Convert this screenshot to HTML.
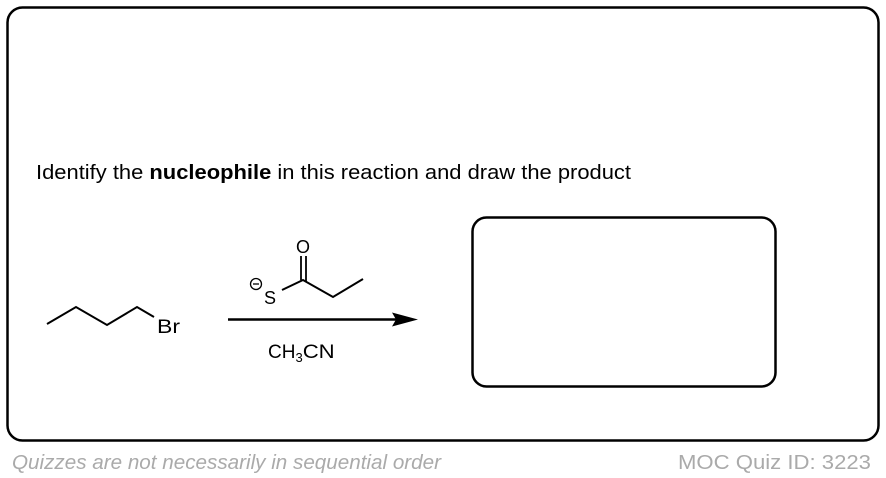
<!DOCTYPE html>
<html><head><meta charset="utf-8"><style>
html,body{margin:0;padding:0;background:#fff;}
body{width:886px;height:478px;overflow:hidden;position:relative;font-family:"Liberation Sans",Arial,sans-serif;}
</style></head><body>
<svg width="886" height="478" viewBox="0 0 886 478" xmlns="http://www.w3.org/2000/svg" style="position:absolute;left:0;top:0" font-family="Liberation Sans, Arial, sans-serif">
<rect x="7.5" y="7.5" width="871" height="433" rx="15" fill="none" stroke="#000" stroke-width="2.5"/>
<rect x="472.5" y="217.5" width="303" height="169" rx="14" fill="none" stroke="#000" stroke-width="2.5"/>
<text x="36" y="179" font-size="20" textLength="595" lengthAdjust="spacingAndGlyphs">Identify the <tspan font-weight="bold">nucleophile</tspan> in this reaction and draw the product</text>
<polyline points="47,324 76,307 107,325 137,307 154,317" fill="none" stroke="#000" stroke-width="2"/>
<text x="157" y="333" font-size="19" textLength="23" lengthAdjust="spacingAndGlyphs">Br</text>
<line x1="228" y1="319.5" x2="400" y2="319.5" stroke="#000" stroke-width="2.5"/>
<polygon points="418,319.5 392,312.5 396,319.5 392,326.5" fill="#000"/>
<circle cx="256" cy="284" r="5.5" fill="none" stroke="#000" stroke-width="1.3"/>
<line x1="253" y1="284" x2="259" y2="284" stroke="#000" stroke-width="1.3"/>
<text x="264" y="304" font-size="18">S</text>
<polyline points="282,290 303,280 333,297 363,279" fill="none" stroke="#000" stroke-width="2"/>
<line x1="301" y1="280" x2="301" y2="256" stroke="#000" stroke-width="1.8"/>
<line x1="306" y1="282" x2="306" y2="256" stroke="#000" stroke-width="1.8"/>
<text x="296" y="253" font-size="18">O</text>
<text x="268" y="358" font-size="19">CH<tspan font-size="13" dy="4">3</tspan><tspan dy="-4" textLength="32" lengthAdjust="spacingAndGlyphs">CN</tspan></text>
<text x="12" y="469" font-size="20" font-style="italic" fill="#aaa" textLength="429" lengthAdjust="spacingAndGlyphs">Quizzes are not necessarily in sequential order</text>
<text x="678" y="469" font-size="20" fill="#aaa" textLength="193" lengthAdjust="spacingAndGlyphs">MOC Quiz ID: 3223</text>
</svg>
</body></html>
